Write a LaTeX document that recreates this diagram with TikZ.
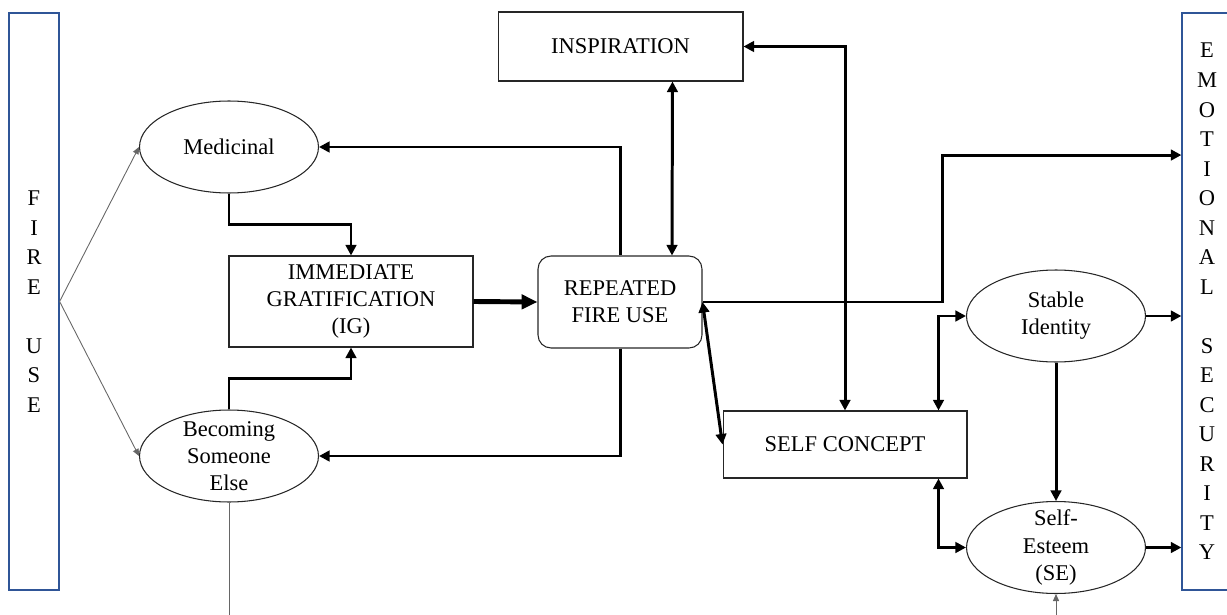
\documentclass[tikz,border=0pt]{standalone}
\usepackage{fontspec}
\setmainfont{Liberation Serif}
\usetikzlibrary{shapes.geometric,calc,arrows.meta}
\definecolor{frameblue}{RGB}{47,85,151}

\begin{document}
\begin{tikzpicture}[x=0.02cm,y=-0.02cm,
		font=\fontsize{12.8}{15.4}\selectfont,
		box/.style={draw=black!85,line width=0.6pt,align=center,inner sep=1pt},
		oval/.style={ellipse,draw=black!85,line width=0.6pt,inner sep=0pt,align=center,minimum width=3.58cm,minimum height=1.84cm},
		side/.style={draw=frameblue,line width=0.7pt,align=center,minimum width=1cm,minimum height=11.54cm,font=\fontsize{12.8}{16.8}\selectfont},
		conn/.style={line width=1.7pt,>={Triangle[length=6pt,width=6pt]}},
		thinline/.style={black!60,line width=0.5pt,>={Triangle[length=4pt,width=3.5pt]}}]
		\useasboundingbox (0,0) rectangle (1227,615);
		
		% the two side bars
		\node[side] (fire) at (34,301.5) {F\\I\\R\\E\\\mbox{}\\U\\S\\E};
		\node[side] (emo) at (1207,301.5) {E\\M\\O\\T\\I\\O\\N\\A\\L\\\mbox{}\\S\\E\\C\\U\\R\\I\\T\\Y};
		
		% left part
		\node[oval] (med) at (229,147) {Medicinal};
		\node[oval] (bse) at (229,456) {};
		\node[align=center] (bse text) at (bse) {Becoming\\Someone\\Else};
		\node[box,minimum width=4.88cm,minimum height=1.82cm] (ig) at (351,301.5) {IMMEDIATE\\GRATIFICATION\\(IG)};
		
		% middle
		\node[box,rounded corners=0.26cm,minimum width=3.28cm,minimum height=1.84cm] (rep) at (620,302) {REPEATED\\FIRE USE};
		\node[box,minimum width=4.9cm,minimum height=1.38cm] (insp) at (620.5,46.5) {INSPIRATION};
		\node[box,minimum width=4.88cm,minimum height=1.34cm] (self) at (845,444.5) {SELF CONCEPT};
		
		% right part
		\node[oval] (stab) at (1056,316) {Stable\\Identity};
		\node[oval] (se) at (1056,547.5) {};
		\node[align=center] (se text) at (se) {Self-\\Esteem\\(SE)};
		
		\coordinate (bse end) at (229,620);
		\coordinate (se start) at (1056,620);
		
		\draw[thinline,->] (fire.east) -- (med.west);
		\draw[thinline,->] (fire.east) -- (bse.west);
		\draw[thinline] (bse.south) -- (bse end);
		\draw[thinline,->] (se start) -- (se.south);
		
		\draw[conn,->] (med.south) -- ++(0,31) -| (ig.north);
		\draw[conn,->] (bse.north) -- ++(0,-31) -| (ig.south);
		\draw[line width=2.8pt,-{Triangle[length=9pt,width=8pt]}] (ig.east) -- (rep.west);
		\draw[conn,->] (rep.north) |- (med.east);
		\draw[conn,->] (rep.south) |- (bse.east);
		\draw[conn,<->] ([xshift=1.04cm]rep.north) -- ([xshift=1.04cm]insp.south);
		\draw[conn,<->] (self.north) |- (insp.east);
		\draw[conn,->] (rep.east) -- ++(240,0) |- ([yshift=2.93cm]emo.west);
		\draw[conn,<->] (rep.east) -- (self.west);
		\draw[conn,<->] ([xshift=-0.58cm]self.north east) |- (stab.west);
		\draw[conn,<->] ([xshift=-0.58cm]self.south east) |- (se.west);
		\draw[conn,->] (stab.south) -- (se.north);
		\draw[conn,->] (stab.east) -- (stab.east -| emo.west);
		\draw[conn,->] (se.east) -- (se.east -| emo.west);
	\end{tikzpicture}
\end{document}
